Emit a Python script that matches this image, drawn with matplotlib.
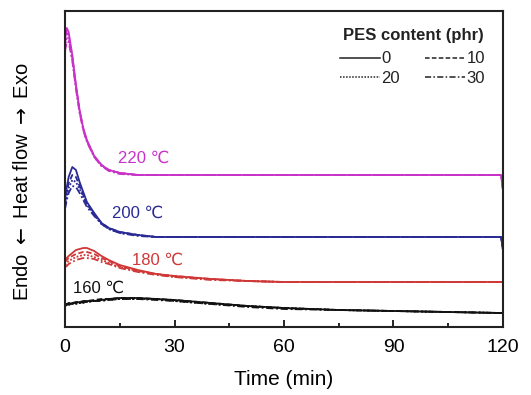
import matplotlib
matplotlib.use("Agg")
import matplotlib.pyplot as plt
from matplotlib.ticker import MultipleLocator

plt.rcParams['font.family'] = ['Liberation Sans', 'DejaVu Sans']
plt.rcParams['mathtext.fontset'] = 'dejavusans'

# Time samples (min)
time = [0, 0.5, 1, 2, 3, 4, 5, 6, 8, 10, 12, 15, 20, 25, 30, 40, 50, 60, 75, 90, 105, 119.5, 120]

# Heat flow (a.u., offset curves) for each isothermal temperature and PES content
hf_220_0  = [287, 299, 295, 272, 242, 217, 199, 187, 171, 162, 157, 154, 152, 152, 152, 152, 152, 152, 152, 152, 152, 152, 137]
hf_220_10 = [284, 294, 292, 270, 241, 216, 198, 186, 171, 162, 157, 154, 152, 152, 152, 152, 152, 152, 152, 152, 152, 152, 137]
hf_220_20 = [280, 290, 289, 268, 240, 215, 198, 186, 170, 161, 157, 154, 152, 152, 152, 152, 152, 152, 152, 152, 152, 152, 137]
hf_220_30 = [276, 285, 285, 266, 238, 214, 197, 185, 170, 161, 156, 153, 152, 152, 152, 152, 152, 152, 152, 152, 152, 152, 137]

hf_200_0  = [127, 140, 150, 160, 157, 145, 135, 125, 114, 104, 99, 95, 92, 90, 90, 90, 90, 90, 90, 90, 90, 90, 77]
hf_200_10 = [124, 135, 144, 152, 150, 141, 132, 123, 113, 104, 99, 95, 92, 90, 90, 90, 90, 90, 90, 90, 90, 90, 77]
hf_200_20 = [121, 131, 139, 147, 145, 138, 130, 122, 112, 103, 98, 94, 92, 90, 90, 90, 90, 90, 90, 90, 90, 90, 77]
hf_200_30 = [118, 127, 134, 141, 140, 134, 127, 120, 111, 103, 98, 94, 91, 90, 90, 90, 90, 90, 90, 90, 90, 90, 77]

hf_180_0  = [67, 69, 71, 74, 77, 78, 79, 79, 76, 71, 67, 62, 57, 53, 51, 48, 46, 45, 45, 45, 45, 45, 45]
hf_180_10 = [65, 67, 69, 71, 73, 74, 75, 75, 73, 69, 66, 61, 56, 53, 51, 48, 46, 45, 45, 45, 45, 45, 45]
hf_180_20 = [62, 64, 66, 68, 70, 71, 72, 72, 70, 67, 64, 60, 56, 53, 50, 48, 46, 45, 45, 45, 45, 45, 45]
hf_180_30 = [60, 61, 63, 65, 67, 68, 69, 69, 68, 65, 63, 59, 55, 52, 50, 47, 46, 45, 45, 45, 45, 45, 45]

hf_160_0  = [22, 23, 23, 24, 24, 25, 25, 26, 26, 27, 28, 29, 29, 28, 27, 24, 21, 19, 17, 16, 15, 14, 14]
hf_160_10 = [23, 23, 24, 24, 25, 25, 26, 26, 27, 28, 28, 29, 29, 28, 27, 24, 21, 19, 17, 16, 15, 14, 14]
hf_160_20 = [21, 22, 22, 23, 23, 24, 24, 25, 26, 27, 27, 28, 28, 28, 26, 23, 21, 19, 17, 16, 15, 14, 14]
hf_160_30 = [22, 22, 23, 23, 24, 24, 25, 25, 26, 26, 27, 28, 28, 27, 26, 23, 20, 18, 17, 16, 15, 14, 14]

temps = ["220 ℃", "200 ℃", "180 ℃", "160 ℃"]
pes_labels = ["0", "10", "20", "30"]
series = {
    "220 ℃": [hf_220_0, hf_220_10, hf_220_20, hf_220_30],
    "200 ℃": [hf_200_0, hf_200_10, hf_200_20, hf_200_30],
    "180 ℃": [hf_180_0, hf_180_10, hf_180_20, hf_180_30],
    "160 ℃": [hf_160_0, hf_160_10, hf_160_20, hf_160_30],
}
colors = {"220 ℃": "#c832c8", "200 ℃": "#2a2a96", "180 ℃": "#d03838", "160 ℃": "#111111"}
styles = ['-', (0, (3, 1.5)), (0, (1, 1)), (0, (4, 1.5, 1, 1.5))]
label_pos = {"220 ℃": (14.5, 169), "200 ℃": (12.8, 114), "180 ℃": (18.3, 67), "160 ℃": (2.2, 39)}

fig = plt.figure(figsize=(5.31, 3.95), dpi=100)
ax = fig.add_axes([65/531, 1 - 327/395, 438/531, 316/395])

for t in temps:
    for vals, ls in zip(series[t], styles):
        ax.plot(time, vals, color=colors[t], ls=ls, lw=1.3)
    x, y = label_pos[t]
    ax.text(x, y, t, color=colors[t], fontsize=12, va='center', ha='left')

# legend title and entries (row-wise order: 0, 10 / 20, 30)
ax.text(0.795, 0.924, "PES content (phr)", transform=ax.transAxes, ha='center',
        va='center', fontsize=12, fontweight='bold', color='#222222')
handles = [plt.Line2D([], [], color='#222222', ls=ls, lw=1.1) for ls in styles]
order = [0, 2, 1, 3]
leg = ax.legend([handles[i] for i in order], [pes_labels[i] for i in order],
                ncol=2, frameon=False, loc='upper right', bbox_to_anchor=(0.959, 0.872),
                handlelength=2.4, handletextpad=0.1, columnspacing=1.5,
                labelspacing=0.25, fontsize=12, borderaxespad=0, borderpad=0)
for txt in leg.get_texts():
    txt.set_color('#222222')

ax.set_xlim(0, 120)
ax.set_ylim(0, 316)
ax.xaxis.set_major_locator(MultipleLocator(30))
ax.xaxis.set_minor_locator(MultipleLocator(15))
ax.tick_params(axis='x', which='both', direction='in', top=False, labelsize=14, pad=9)
ax.tick_params(axis='x', which='major', length=5, width=1.2)
ax.tick_params(axis='x', which='minor', length=3, width=1.2)
ax.set_yticks([])
for s in ax.spines.values():
    s.set_linewidth(1.5)
    s.set_color('#222222')

ax.set_xlabel("Time (min)", fontsize=15, labelpad=10)
ax.set_ylabel(r"Endo $\leftarrow$ Heat flow $\rightarrow$ Exo", fontsize=14.5)
ax.yaxis.set_label_coords(-0.075, 0.46)

fig.savefig("out.png", dpi=100)
